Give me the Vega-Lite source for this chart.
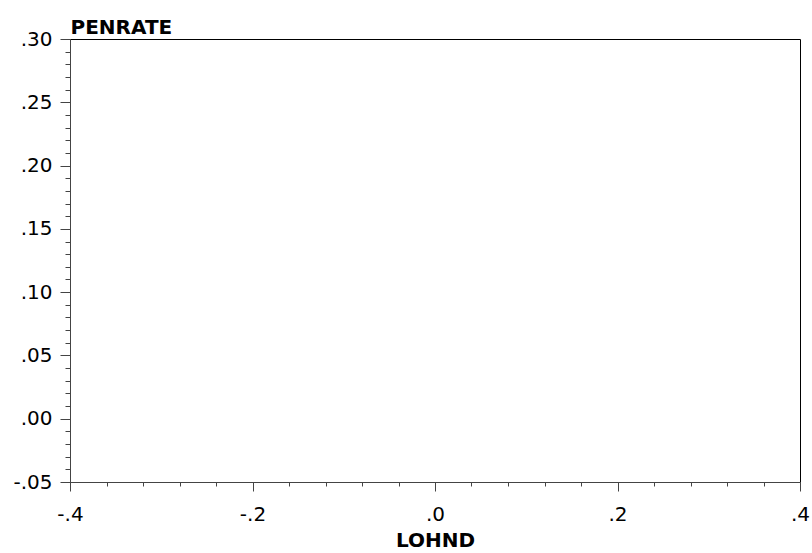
{
  "$schema": "https://vega.github.io/schema/vega-lite/v6.json",
  "width": 730,
  "height": 443,
  "autosize": {"type": "none"},
  "padding": {"left": 70, "top": 39, "right": 12, "bottom": 71},
  "background": "white",
  "config": {
    "view": {"stroke": "black", "strokeWidth": 1},
    "axis": {
      "labelFont": "DejaVu Sans",
      "labelFontSize": 20,
      "labelColor": "black",
      "titleFont": "DejaVu Sans",
      "titleFontSize": 20,
      "titleFontWeight": "bold",
      "titleColor": "black",
      "domainColor": "#444",
      "tickColor": "#444",
      "grid": false
    }
  },
  "data": {"values": []},
  "mark": {"type": "point"},
  "encoding": {
    "x": {
      "field": "LOHND",
      "type": "quantitative",
      "scale": {"domain": [-0.4, 0.4], "nice": false, "zero": false},
      "axis": {
        "title": "LOHND",
        "values": [-0.4, -0.36, -0.32, -0.28, -0.24, -0.2, -0.16, -0.12, -0.08, -0.04, 0, 0.04, 0.08, 0.12, 0.16, 0.2, 0.24, 0.28, 0.32, 0.36, 0.4],
        "tickSize": {"condition": {"test": "abs(round(datum.value*5) - datum.value*5) < 1e-6", "value": 9}, "value": 4},
        "labelExpr": "abs(round(datum.value*5) - datum.value*5) < 1e-6 ? replace(replace(format(datum.value, '.1f'), '0.', '.'), '\u2212', '-') : ''",
        "labelPadding": 29,
        "labelBaseline": "alphabetic",
        "labelFlush": false,
        "labelOverlap": false,
        "titleBaseline": "alphabetic",
        "titleY": 64
      }
    },
    "y": {
      "field": "PENRATE",
      "type": "quantitative",
      "scale": {"domain": [-0.05, 0.3], "nice": false, "zero": false},
      "axis": {
        "title": "PENRATE",
        "values": [-0.05, -0.04, -0.03, -0.02, -0.01, 0, 0.01, 0.02, 0.03, 0.04, 0.05, 0.06, 0.07, 0.08, 0.09, 0.1, 0.11, 0.12, 0.13, 0.14, 0.15, 0.16, 0.17, 0.18, 0.19, 0.2, 0.21, 0.22, 0.23, 0.24, 0.25, 0.26, 0.27, 0.28, 0.29, 0.3],
        "tickSize": {"condition": {"test": "abs(round(datum.value*20) - datum.value*20) < 1e-6", "value": 10}, "value": 5},
        "labelExpr": "abs(round(datum.value*20) - datum.value*20) < 1e-6 ? replace(replace(format(datum.value, '.2f'), '0.', '.'), '\u2212', '-') : ''",
        "labelPadding": 8,
        "labelFlush": false,
        "labelOverlap": false,
        "titleAngle": 0,
        "titleAlign": "left",
        "titleBaseline": "alphabetic",
        "titleX": 0,
        "titleY": -6
      }
    }
  }
}
